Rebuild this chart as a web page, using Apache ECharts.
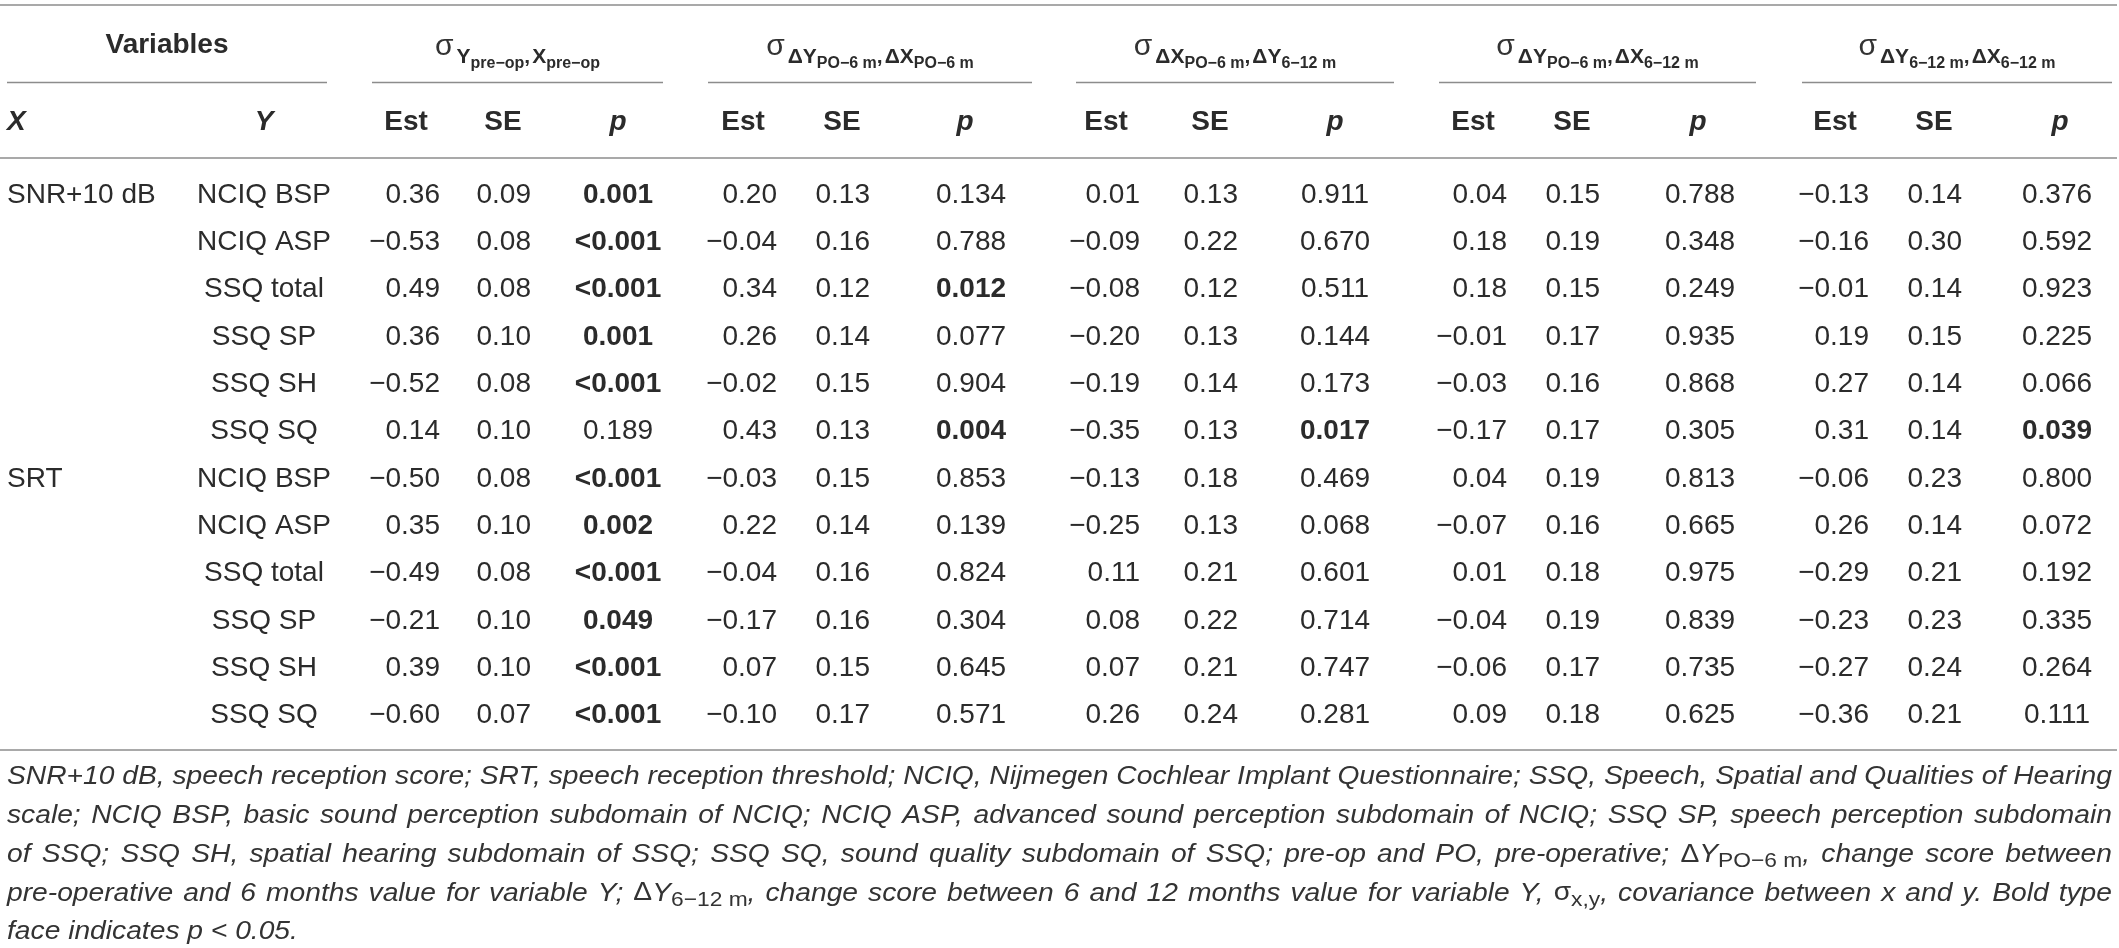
<!DOCTYPE html>
<html>
<head>
<meta charset="utf-8">
<script src="https://cdn.jsdelivr.net/npm/echarts@6/dist/echarts.min.js"></script>
<style>
html, body { margin: 0; padding: 0; background: #fff; }
#main { width: 2119px; height: 948px; }
</style>
</head>
<body>
<div id="main"></div>
<script>
// ---- data ----
var xVars = ['SNR+10 dB', 'SRT'];
var yVars = ['NCIQ BSP', 'NCIQ ASP', 'SSQ total', 'SSQ SP', 'SSQ SH', 'SSQ SQ'];

// covariance titles: [main, subscript] pairs
var titlePreop = [['Y', 'pre\u2212op'], ['X', 'pre\u2212op']];
var titlePo6 = [['\u0394Y', 'PO\u22126\u00a0m'], ['\u0394X', 'PO\u22126\u00a0m']];
var titleXpoY612 = [['\u0394X', 'PO\u22126\u00a0m'], ['\u0394Y', '6\u221212\u00a0m']];
var titleYpoX612 = [['\u0394Y', 'PO\u22126\u00a0m'], ['\u0394X', '6\u221212\u00a0m']];
var title612 = [['\u0394Y', '6\u221212\u00a0m'], ['\u0394X', '6\u221212\u00a0m']];

var estPreop = [0.36, -0.53, 0.49, 0.36, -0.52, 0.14, -0.50, 0.35, -0.49, -0.21, 0.39, -0.60];
var sePreop = [0.09, 0.08, 0.08, 0.10, 0.08, 0.10, 0.08, 0.10, 0.08, 0.10, 0.10, 0.07];
var pPreop = ['0.001', '<0.001', '<0.001', '0.001', '<0.001', '0.189', '<0.001', '0.002', '<0.001', '0.049', '<0.001', '<0.001'];

var estPo6 = [0.20, -0.04, 0.34, 0.26, -0.02, 0.43, -0.03, 0.22, -0.04, -0.17, 0.07, -0.10];
var sePo6 = [0.13, 0.16, 0.12, 0.14, 0.15, 0.13, 0.15, 0.14, 0.16, 0.16, 0.15, 0.17];
var pPo6 = ['0.134', '0.788', '0.012', '0.077', '0.904', '0.004', '0.853', '0.139', '0.824', '0.304', '0.645', '0.571'];

var estXpoY612 = [0.01, -0.09, -0.08, -0.20, -0.19, -0.35, -0.13, -0.25, 0.11, 0.08, 0.07, 0.26];
var seXpoY612 = [0.13, 0.22, 0.12, 0.13, 0.14, 0.13, 0.18, 0.13, 0.21, 0.22, 0.21, 0.24];
var pXpoY612 = ['0.911', '0.670', '0.511', '0.144', '0.173', '0.017', '0.469', '0.068', '0.601', '0.714', '0.747', '0.281'];

var estYpoX612 = [0.04, 0.18, 0.18, -0.01, -0.03, -0.17, 0.04, -0.07, 0.01, -0.04, -0.06, 0.09];
var seYpoX612 = [0.15, 0.19, 0.15, 0.17, 0.16, 0.17, 0.19, 0.16, 0.18, 0.19, 0.17, 0.18];
var pYpoX612 = ['0.788', '0.348', '0.249', '0.935', '0.868', '0.305', '0.813', '0.665', '0.975', '0.839', '0.735', '0.625'];

var est612 = [-0.13, -0.16, -0.01, 0.19, 0.27, 0.31, -0.06, 0.26, -0.29, -0.23, -0.27, -0.36];
var se612 = [0.14, 0.30, 0.14, 0.15, 0.14, 0.14, 0.23, 0.14, 0.21, 0.23, 0.24, 0.21];
var p612 = ['0.376', '0.592', '0.923', '0.225', '0.066', '0.039', '0.800', '0.072', '0.192', '0.335', '0.264', '0.111'];

// footnote: [..] upright, _{..} subscript
var footLines = [
  'SNR+10 dB, speech reception score; SRT, speech reception threshold; NCIQ, Nijmegen Cochlear Implant Questionnaire; SSQ, Speech, Spatial and Qualities of Hearing',
  'scale; NCIQ BSP, basic sound perception subdomain of NCIQ; NCIQ ASP, advanced sound perception subdomain of NCIQ; SSQ SP, speech perception subdomain',
  'of SSQ; SSQ SH, spatial hearing subdomain of SSQ; SSQ SQ, sound quality subdomain of SSQ; pre-op and PO, pre-operative; [\u0394]Y_{PO\u22126\u00a0m}, change score between',
  'pre-operative and 6 months value for variable Y; [\u0394]Y_{6\u221212\u00a0m}, change score between 6 and 12 months value for variable Y, [\u03c3]_{x,y}, covariance between x and y. Bold type',
  'face indicates p < 0.05.'
];

// ---- layout ----
var FONT = '"Liberation Sans", Arial, sans-serif';
var TXT = '#2b2b2b';
var FOOT_TXT = '#333';
var RULE = '#8c8c8c';
var W = 2119;
var ROW_TOP = 171.5, ROW_H = 47.3;
var BODY = 28;

var groups = [
  { title: titlePreop, est: estPreop, se: sePreop, p: pPreop, estX: 440, seX: 531, pX: 618, pHead: 618, line: [372, 663] },
  { title: titlePo6, est: estPo6, se: sePo6, p: pPo6, estX: 777, seX: 870, pX: 971, pHead: 965, line: [708, 1032] },
  { title: titleXpoY612, est: estXpoY612, se: seXpoY612, p: pXpoY612, estX: 1140, seX: 1238, pX: 1335, pHead: 1335, line: [1076, 1394] },
  { title: titleYpoX612, est: estYpoX612, se: seYpoX612, p: pYpoX612, estX: 1507, seX: 1600, pX: 1700, pHead: 1698, line: [1439, 1756] },
  { title: title612, est: est612, se: se612, p: p612, estX: 1869, seX: 1962, pX: 2057, pHead: 2060, line: [1802, 2112] }
];
var X_LEFT = 7, Y_CENTER = 264, VAR_LINE = [7, 327];

function fmt(v, d) { return (v < 0 ? '\u2212' : '') + Math.abs(v).toFixed(d); }
function isSig(p) { return p.charAt(0) === '<' || parseFloat(p) < 0.05; }

// ---- cells for the custom series ----
var rowKeys = [];
var cells = [];
xVars.forEach(function (xv, gi) {
  yVars.forEach(function (yv, yi) {
    var r = gi * yVars.length + yi;
    rowKeys.push(xv + ' / ' + yv);
    if (yi === 0) cells.push({ x: X_LEFT, row: r, text: xv, align: 'left' });
    cells.push({ x: Y_CENTER, row: r, text: yv, align: 'center' });
    groups.forEach(function (g) {
      cells.push({ x: g.estX, row: r, text: fmt(g.est[r], 2), align: 'right' });
      cells.push({ x: g.seX, row: r, text: fmt(g.se[r], 2), align: 'right' });
      cells.push({ x: g.pX, row: r, text: g.p[r], align: 'center', bold: isSig(g.p[r]) });
    });
  });
});

// ---- text helpers ----
var mctx = document.createElement('canvas').getContext('2d');
function fontStr(r) { return (r.italic ? 'italic ' : '') + (r.bold ? 'bold ' : '') + r.size + 'px ' + FONT; }
function measure(r) { mctx.font = fontStr(r); return mctx.measureText(r.t).width; }
function textEl(t, x, y, font, align, fill, sx) {
  return {
    type: 'text', x: x, y: y, scaleX: sx || 1, silent: true,
    style: { text: t, font: font, fill: fill || TXT, align: align, verticalAlign: 'middle', textAlign: align, textVerticalAlign: 'middle' }
  };
}
function runsEls(runs, x, baseline, out, sx) {
  sx = sx || 1;
  runs.forEach(function (r) {
    x += (r.gap || 0) * sx;
    out.push(textEl(r.t, x, baseline + (r.dy || 0) - 0.35 * r.size, fontStr(r), 'left', r.color, sx));
    x += measure(r) * sx;
  });
  return x;
}
function runsWidth(runs) {
  return runs.reduce(function (s, r) { return s + (r.gap || 0) + measure(r); }, 0);
}

var els = [];
function hline(x1, x2, y) {
  els.push({ type: 'line', silent: true, shape: { x1: x1, y1: y, x2: x2, y2: y }, style: { stroke: RULE, lineWidth: 1.5 } });
}

// rules
hline(0, 2117, 5);
hline(VAR_LINE[0], VAR_LINE[1], 82.5);
groups.forEach(function (g) { hline(g.line[0], g.line[1], 82.5); });
hline(0, 2117, 158);
hline(0, 2117, 750);

// top header
els.push(textEl('Variables', (VAR_LINE[0] + VAR_LINE[1]) / 2, 45, 'bold ' + BODY + 'px ' + FONT, 'center'));
groups.forEach(function (g) {
  var runs = [{ t: '\u03c3', size: 30, color: '#333' }];
  g.title.forEach(function (pair, i) {
    if (i > 0) runs.push({ t: ',', size: 21, bold: true, dy: 8 });
    runs.push({ t: pair[0], size: 21, bold: true, dy: 8, gap: i === 0 ? 3 : 2 });
    runs.push({ t: pair[1], size: 16, bold: true, dy: 12 });
  });
  var w = runsWidth(runs);
  runsEls(runs, (g.line[0] + g.line[1]) / 2 - w / 2, 57, els);
});

// column headers
var HY = 122;
els.push(textEl('X', X_LEFT, HY, 'italic bold ' + BODY + 'px ' + FONT, 'left'));
els.push(textEl('Y', Y_CENTER, HY, 'italic bold ' + BODY + 'px ' + FONT, 'center'));
groups.forEach(function (g) {
  els.push(textEl('Est', g.estX - 34, HY, 'bold ' + BODY + 'px ' + FONT, 'center'));
  els.push(textEl('SE', g.seX - 28, HY, 'bold ' + BODY + 'px ' + FONT, 'center'));
  els.push(textEl('p', g.pHead, HY, 'italic bold ' + BODY + 'px ' + FONT, 'center'));
});

// footnote
var FOOT_SIZE = 26;
function parseWord(w, size) {
  var runs = [], buf = '', i = 0, j;
  function flush() { if (buf) { runs.push({ t: buf, size: size, italic: true, color: FOOT_TXT }); buf = ''; } }
  while (i < w.length) {
    if (w[i] === '_' && w[i + 1] === '{') {
      flush(); j = w.indexOf('}', i);
      runs.push({ t: w.slice(i + 2, j), size: Math.round(size * 0.8), dy: 5, color: FOOT_TXT });
      i = j + 1;
    } else if (w[i] === '[') {
      flush(); j = w.indexOf(']', i);
      runs.push({ t: w.slice(i + 1, j), size: size, color: FOOT_TXT });
      i = j + 1;
    } else { buf += w[i]; i++; }
  }
  flush();
  return runs;
}
var FOOT_L = 7, FOOT_R = 2112;
var spaceW = measure({ t: ' ', size: FOOT_SIZE, italic: true });
function lineNatural(line) {
  var words = line.split(' ').map(function (w) { return parseWord(w, FOOT_SIZE); });
  return words.reduce(function (s, r) { return s + runsWidth(r); }, 0) + spaceW * (words.length - 1);
}
// horizontal stretch so the first line fills the width with plain spaces
var footSx = Math.max(0.9, Math.min(1.15, (FOOT_R - FOOT_L) / lineNatural(footLines[0])));
footLines.forEach(function (line, li) {
  var words = line.split(' ').map(function (w) { return parseWord(w, FOOT_SIZE); });
  var widths = words.map(function (r) { return runsWidth(r) * footSx; });
  var total = widths.reduce(function (a, b) { return a + b; }, 0);
  var gap = li < footLines.length - 1 ? (FOOT_R - FOOT_L - total) / (words.length - 1) : spaceW * footSx;
  var x = FOOT_L, base = 786 + li * 38.8;
  words.forEach(function (runs, wi) {
    runsEls(runs, x, base, els, footSx);
    x += widths[wi] + gap;
  });
});

// ---- chart ----
var chart = echarts.init(document.getElementById('main'));
var option = {
  animation: false,
  backgroundColor: '#fff',
  grid: { left: 0, right: 0, top: ROW_TOP, height: ROW_H * rowKeys.length, containLabel: false },
  xAxis: { type: 'value', min: 0, max: W, show: false },
  yAxis: { type: 'category', data: rowKeys, inverse: true, show: false },
  graphic: { elements: els },
  series: [{
    type: 'custom',
    clip: false,
    silent: true,
    data: cells.map(function (c) { return [c.x, c.row]; }),
    renderItem: function (params, api) {
      var c = cells[params.dataIndex];
      var pt = api.coord([api.value(0), api.value(1)]);
      var font = (c.bold ? 'bold ' : '') + BODY + 'px ' + FONT;
      return {
        type: 'text', x: pt[0], y: pt[1],
        style: { text: c.text, font: font, fill: TXT, align: c.align, verticalAlign: 'middle', textAlign: c.align, textVerticalAlign: 'middle' }
      };
    }
  }]
};
chart.setOption(option);
</script>
</body>
</html>
